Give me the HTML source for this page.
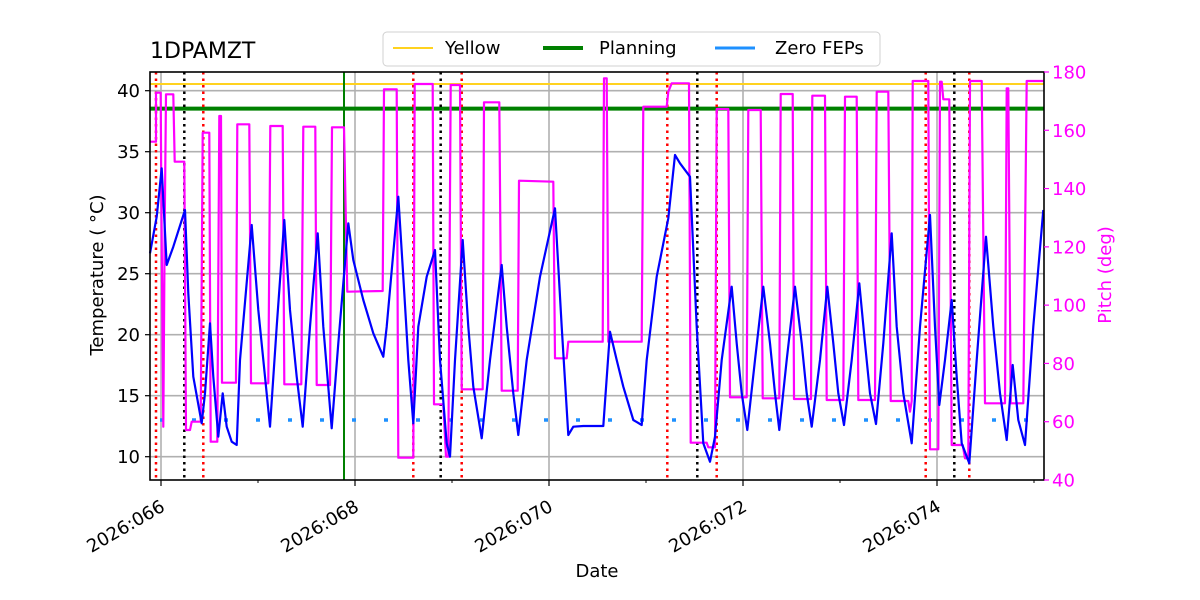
<!DOCTYPE html>
<html><head><meta charset="utf-8"><style>
html,body{margin:0;padding:0;background:#fff;}
svg{display:block;font-family:"DejaVu Sans","Liberation Sans",sans-serif;}
</style></head><body>
<svg id="s" width="1200" height="600" viewBox="0 0 1200 600" xmlns="http://www.w3.org/2000/svg">
<rect width="1200" height="600" fill="#fff"/>
<g id="grid" stroke="#b0b0b0" stroke-width="1.6"></g>
<line x1="150" x2="1044" y1="84" y2="84" stroke="#ffd21f" stroke-width="2"/>
<line x1="150" x2="1044" y1="108.6" y2="108.6" stroke="#008000" stroke-width="4"/>
<line x1="344" x2="344" y1="72" y2="480" stroke="#008000" stroke-width="2"/>
<g id="vl"></g>
<line x1="160" x2="1030" y1="420" y2="420" stroke="#1e90ff" stroke-width="3.5" stroke-dasharray="4 28"/>
<polyline id="mag" fill="none" stroke="#ff00ff" stroke-width="2.2" stroke-linejoin="round"/>
<polyline id="blu" fill="none" stroke="#0000ff" stroke-width="2.2" stroke-linejoin="round"/>
<rect x="150" y="72" width="894" height="408" fill="none" stroke="#000" stroke-width="1.6"/>
<g id="ticks" font-size="18"></g>
<text x="150" y="58" font-size="22">1DPAMZT</text>
<text transform="translate(103,275) rotate(-90)" text-anchor="middle" font-size="18">Temperature ( °C)</text>
<text transform="translate(1111,275) rotate(-90)" text-anchor="middle" font-size="18" fill="#ff00ff">Pitch (deg)</text>
<text x="597" y="577" text-anchor="middle" font-size="18">Date</text>
<rect x="383" y="32" width="497" height="34" rx="4" fill="#fff" stroke="#d0d0d0"/>
<line x1="393" x2="433" y1="48" y2="48" stroke="#ffd21f" stroke-width="2"/>
<text x="445" y="54" font-size="18">Yellow</text>
<line x1="543" x2="583" y1="48" y2="48" stroke="#008000" stroke-width="4"/>
<text x="599" y="54" font-size="18">Planning</text>
<line x1="715" x2="755" y1="48" y2="48" stroke="#1e90ff" stroke-width="3"/>
<text x="775" y="54" font-size="18">Zero FEPs</text>
</svg>
<script>
var NS="http://www.w3.org/2000/svg";
function el(p,t,a,txt){var e=document.createElementNS(NS,t);for(var k in a)e.setAttribute(k,a[k]);if(txt!=null)e.textContent=txt;p.appendChild(e);return e;}
var g=document.getElementById('grid'),tk=document.getElementById('ticks'),vl=document.getElementById('vl');
[161,355,549,743,937].forEach(function(x){el(g,'line',{x1:x,x2:x,y1:72,y2:480});});
for(var t=10;t<=40;t+=5){var y=456.7-(t-10)*12.2;el(g,'line',{x1:150,x2:1044,y1:y,y2:y});
 el(tk,'line',{x1:145,x2:150,y1:y,y2:y,stroke:'#000','stroke-width':1.2});
 el(tk,'text',{x:140,y:y+6.5,'text-anchor':'end'},t);}
for(var p=40;p<=180;p+=20){var y=480-(p-40)*408/140;
 el(tk,'line',{x1:1044,x2:1049,y1:y,y2:y,stroke:'#ff00ff','stroke-width':1.2});
 el(tk,'text',{x:1052,y:y+6.5,fill:'#ff00ff'},p);}
var labs=['2026:066','2026:068','2026:070','2026:072','2026:074'];
[161,355,549,743,937].forEach(function(x,i){el(tk,'line',{x1:x,x2:x,y1:480,y2:486,stroke:'#000','stroke-width':1.2});
 el(tk,'text',{transform:'translate('+(x+5)+',510) rotate(-30)','text-anchor':'end'},labs[i]);});
[258,452,646,840,1034].forEach(function(x){el(tk,'line',{x1:x,x2:x,y1:480,y2:483,stroke:'#000','stroke-width':1});});
[156,203.3,413.3,461.7,667.3,716.7,925.7,969.3].forEach(function(x){el(vl,'line',{x1:x,x2:x,y1:72,y2:480,stroke:'#ff0000','stroke-width':2.5,'stroke-dasharray':'2.5 4'});});
[184.3,440.7,697.3,954.3].forEach(function(x){el(vl,'line',{x1:x,x2:x,y1:72,y2:480,stroke:'#000','stroke-width':2.5,'stroke-dasharray':'2.5 4'});});
function conv(a,ox){var o=[];for(var i=0;i<a.length;i+=2)o.push((ox+a[i]/3).toFixed(1)+','+(60+a[i+1]/3).toFixed(1));return o;}
var m1=[30,245,48,245,48,98,62,98,64,400,70,1100,74,500,78,103,100,103,104,305,133,305,138,1110,150,1110,155,1085,182,1085,188,218,208,218,212,1145,232,1145,238,168,243,168,246,968,288,968,292,193,328,193,333,970,385,970,391,198,428,198,433,973,484,973,490,200,526,200,530,975,570,975,576,202,612,202,622,695,728,693,732,88,770,88,775,1193,820,1193,824,72,878,72,882,1033,910,1033,918,1190,925,1190,932,75,960,75,965,988,1028,988,1032,127,1078,127,1085,992,1133,992,1137,362,1240,365,1245,895,1280,895,1285,845,1380,845];
var m2=[0,845,38,845,42,55,50,55,55,845,155,845,160,140,230,140,235,95,245,70,297,70,302,1148,350,1148,355,1162,375,1162,380,147,415,147,420,1012,470,1012,475,150,512,150,518,1015,568,1015,572,102,608,102,612,1017,663,1017,667,107,705,107,710,1020,760,1020,765,110,800,110,805,1020,855,1020,860,95,895,95,902,1023,955,1023,960,1055,965,1023,968,63,1015,63,1020,1168,1045,1168,1050,65,1055,65,1060,118,1078,118,1085,1155,1118,1155,1125,1195,1135,1195,1140,63,1175,63,1185,1030,1245,1030,1250,85,1255,85,1262,1030,1300,1030,1310,63,1360,63];
var b1=[30,580,50,470,65,325,72,460,80,615,100,560,135,450,145,700,160,950,185,1090,195,1000,210,790,220,950,235,1130,248,1000,260,1100,275,1145,290,1155,300,900,335,495,355,750,375,950,390,1100,410,800,433,480,450,750,470,950,488,1100,510,800,533,520,550,800,575,1105,595,850,625,490,640,600,670,720,700,820,730,890,740,800,775,410,790,650,805,900,820,1090,835,800,860,650,885,570,900,900,920,1150,930,1190,945,900,968,540,985,800,1000,980,1025,1135,1050,900,1085,615,1100,800,1120,1000,1135,1125,1160,900,1200,650,1245,445,1265,800,1285,1125,1300,1100,1330,1098,1380,1098];
var b2=[0,1098,40,1098,60,815,80,900,100,980,130,1080,155,1095,170,900,200,650,235,475,255,285,270,310,300,350,320,800,340,1150,360,1205,375,1130,395,900,425,680,440,850,455,1000,472,1110,495,900,520,680,540,850,555,1000,568,1110,590,900,615,680,635,850,650,1000,665,1100,690,900,712,680,730,850,745,1000,762,1095,785,900,808,670,825,850,840,1000,858,1092,880,850,905,520,920,800,940,1000,965,1150,990,800,1020,465,1035,800,1048,1035,1065,900,1085,720,1100,950,1115,1150,1138,1210,1160,900,1188,530,1210,800,1230,1000,1250,1140,1268,915,1285,1080,1305,1155,1330,800,1360,450];
document.getElementById('mag').setAttribute('points',conv(m1,140).concat(conv(m2,590)).join(' '));
document.getElementById('blu').setAttribute('points',conv(b1,140).concat(conv(b2,590)).join(' '));
</script>
</body></html>
